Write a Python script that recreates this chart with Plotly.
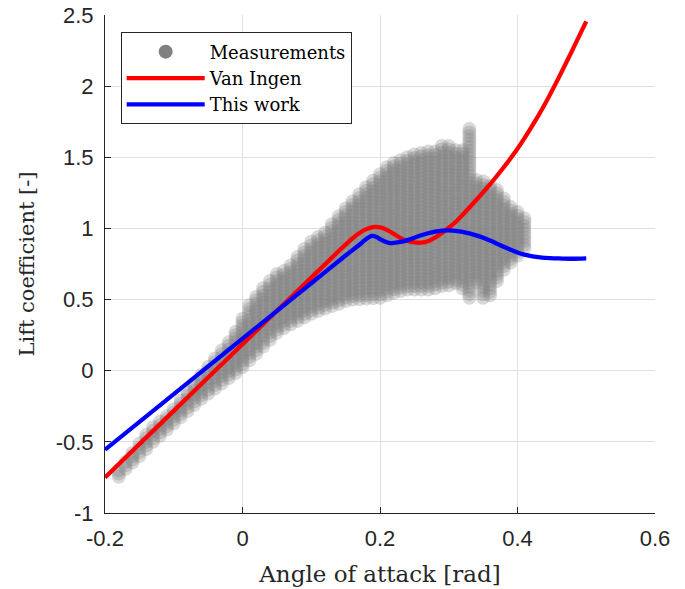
import numpy as np
import plotly.graph_objects as go

# Measured lift coefficient band: for each angle-of-attack bin, the lowest and
# highest measured Cl values.
alpha_bins = [-0.18, -0.17, -0.16, -0.15, -0.14, -0.13, -0.12, -0.11, -0.10, -0.09,
              -0.08, -0.07, -0.06, -0.05, -0.04, -0.03, -0.02, -0.01, 0.00, 0.01,
              0.02, 0.03, 0.04, 0.05, 0.06, 0.07, 0.08, 0.09, 0.10, 0.11,
              0.12, 0.13, 0.14, 0.15, 0.16, 0.17, 0.18, 0.19, 0.20, 0.21,
              0.22, 0.23, 0.24, 0.25, 0.26, 0.27, 0.28, 0.29, 0.30, 0.31,
              0.32, 0.33, 0.34, 0.35, 0.36, 0.37, 0.38, 0.39, 0.40, 0.41]
cl_low = [-0.745, -0.69, -0.646, -0.60, -0.55, -0.50, -0.457, -0.413, -0.37, -0.327,
          -0.283, -0.24, -0.197, -0.16, -0.125, -0.089, -0.052, -0.016, 0.025, 0.073,
          0.12, 0.17, 0.218, 0.266, 0.30, 0.327, 0.35, 0.375, 0.40, 0.42,
          0.437, 0.454, 0.47, 0.49, 0.50, 0.503, 0.507, 0.51, 0.513, 0.53,
          0.547, 0.56, 0.57, 0.57, 0.57, 0.57, 0.58, 0.595, 0.60, 0.616,
          0.58, 0.513, 0.62, 0.513, 0.53, 0.63, 0.71, 0.76, 0.81, 0.86]
cl_high = [-0.70, -0.64, -0.578, -0.514, -0.45, -0.397, -0.358, -0.32, -0.27, -0.21,
           -0.15, -0.09, -0.03, 0.027, 0.086, 0.144, 0.20, 0.273, 0.365, 0.46,
           0.52, 0.58, 0.63, 0.68, 0.70, 0.74, 0.80, 0.855, 0.906, 0.94,
           0.97, 1.03, 1.085, 1.14, 1.19, 1.24, 1.29, 1.335, 1.38, 1.43,
           1.46, 1.48, 1.50, 1.52, 1.53, 1.54, 1.54, 1.58, 1.58, 1.55,
           1.55, 1.70, 1.34, 1.33, 1.30, 1.27, 1.21, 1.15, 1.115, 1.07]
cl_resolution = 0.025

# Van Ingen model
alpha_vi = [-0.20, -0.10, 0.00, 0.10, 0.14, 0.15, 0.16, 0.17, 0.18, 0.19,
            0.20, 0.21, 0.22, 0.23, 0.24, 0.25, 0.26, 0.27, 0.28, 0.29,
            0.30, 0.31, 0.32, 0.34, 0.36, 0.38, 0.40, 0.42, 0.44, 0.46,
            0.48, 0.50]
cl_vi = [-0.75, -0.282, 0.186, 0.654, 0.841, 0.886, 0.93, 0.968, 0.995, 1.01,
         1.008, 0.99, 0.962, 0.932, 0.912, 0.902, 0.900, 0.910, 0.935, 0.968,
         1.005, 1.045, 1.095, 1.20, 1.31, 1.43, 1.56, 1.71, 1.875, 2.06,
         2.255, 2.455]

# This work
alpha_tw = [-0.20, 0.00, 0.10, 0.15, 0.17, 0.18, 0.188, 0.195, 0.20, 0.21,
            0.215, 0.22, 0.23, 0.24, 0.25, 0.26, 0.27, 0.28, 0.29, 0.30,
            0.31, 0.32, 0.33, 0.34, 0.35, 0.36, 0.37, 0.38, 0.39, 0.40,
            0.41, 0.42, 0.43, 0.44, 0.46, 0.48, 0.50]
cl_tw = [-0.555, 0.225, 0.615, 0.81, 0.885, 0.925, 0.947, 0.94, 0.925, 0.903,
         0.897, 0.898, 0.905, 0.918, 0.935, 0.952, 0.966, 0.977, 0.984, 0.986,
         0.983, 0.976, 0.965, 0.951, 0.935, 0.915, 0.893, 0.871, 0.85, 0.831,
         0.816, 0.805, 0.798, 0.793, 0.789, 0.787, 0.789]

x_ticks = [-0.2, 0, 0.2, 0.4, 0.6]
x_ticklabels = ["-0.2", "0", "0.2", "0.4", "0.6"]
y_ticks = [-1, -0.5, 0, 0.5, 1, 1.5, 2, 2.5]
y_ticklabels = ["-1", "-0.5", "0", "0.5", "1", "1.5", "2", "2.5"]

# Expand each bin into individual samples spanning its measured range
meas_a, meas_cl = [], []
for a, lo, hi in zip(alpha_bins, cl_low, cl_high):
    n = max(int(round((hi - lo) / cl_resolution)), 0) + 1
    for c in np.linspace(lo, hi, n):
        meas_a.append(a)
        meas_cl.append(c)

AXIS_COLOR = "#262626"
GRID_COLOR = "#dfdfdf"
SERIF = "DejaVu Serif"
SANS = "Liberation Sans"

fig = go.Figure()

fig.add_trace(go.Scatter(
    x=meas_a, y=meas_cl, mode="markers",
    marker=dict(size=14, color="rgb(128,128,128)", opacity=0.3, line=dict(width=0)),
    showlegend=False, hoverinfo="skip",
))
# legend entry for the measurements (opaque marker)
fig.add_trace(go.Scatter(
    x=[None], y=[None], mode="markers", name="Measurements",
    marker=dict(size=14, color="rgb(128,128,128)"),
))
fig.add_trace(go.Scatter(
    x=alpha_vi, y=cl_vi, mode="lines", name="Van Ingen",
    line=dict(color="rgb(255,0,0)", width=4.3, shape="spline", smoothing=0.6),
))
fig.add_trace(go.Scatter(
    x=alpha_tw, y=cl_tw, mode="lines", name="This work",
    line=dict(color="rgb(0,0,255)", width=4.3, shape="spline", smoothing=0.6),
))

axis_common = dict(
    showgrid=True, gridcolor=GRID_COLOR, gridwidth=1,
    showline=True, linecolor=AXIS_COLOR, linewidth=1,
    ticks="inside", ticklen=6, tickwidth=1, tickcolor=AXIS_COLOR,
    zeroline=False, mirror=False, automargin=False,
    tickfont=dict(family=SANS, size=22, color=AXIS_COLOR),
)

fig.update_layout(
    width=685, height=589,
    margin=dict(l=105, r=30, t=15, b=76),
    paper_bgcolor="white", plot_bgcolor="white",
    xaxis=dict(
        range=[-0.2, 0.6], tickvals=x_ticks, ticktext=x_ticklabels,
        title=dict(text="Angle of attack [rad]", standoff=15,
                   font=dict(family=SERIF, size=23, color=AXIS_COLOR)),
        ticklabelstandoff=6,
        **axis_common,
    ),
    yaxis=dict(
        range=[-1, 2.5], tickvals=y_ticks, ticktext=y_ticklabels,
        title=dict(text="Lift coefficient [-]", standoff=15,
                   font=dict(family=SERIF, size=21, color=AXIS_COLOR)),
        ticklabelstandoff=6,
        **axis_common,
    ),
    legend=dict(
        x=0.0285, y=0.965, xanchor="left", yanchor="top",
        bgcolor="white", bordercolor=AXIS_COLOR, borderwidth=1,
        font=dict(family=SERIF, size=18, color="black"),
        itemwidth=78, tracegroupgap=0,
    ),
    showlegend=True,
)

fig.write_html("out.html")
